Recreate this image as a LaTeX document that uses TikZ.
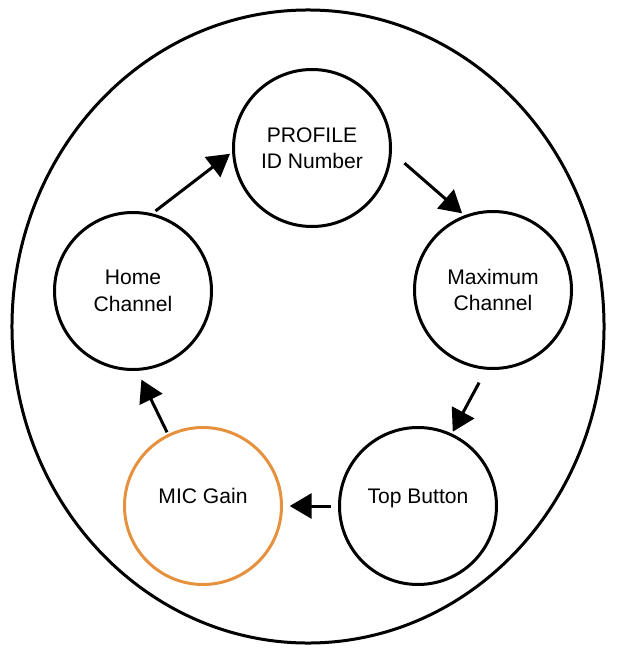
\documentclass[tikz,border=0pt]{standalone}
\usepackage{fontspec}
\setmainfont{Liberation Sans}
\usepackage{tikz}
\usetikzlibrary{arrows.meta,positioning}
\definecolor{micorange}{RGB}{230,145,62}

\begin{document}
\begin{tikzpicture}[
  x=0.03cm, y=-0.03cm,
  stage/.style={draw, circle, line width=0.09cm, minimum size=4.71cm, inner sep=0pt, align=center, font=\fontsize{18}{22.5}\selectfont},
  oneline/.style={text height=13.5pt, text depth=17pt},
  current/.style={draw=micorange},
  flow/.style={-{Triangle[length=0.66cm, width=0.75cm]}, line width=0.09cm},
  ring/.style={line width=0.09cm}
]
  \useasboundingbox (0,0) rectangle (618,648);
  \draw[ring] (308,326.5) ellipse [x radius=8.88cm, y radius=9.495cm];

  \node[stage] (profile) at (312,148) {PROFILE\\ID Number};
  \node[stage] (maxch) at (493,290) {Maximum\\Channel};
  \node[stage, oneline] (top) at (418,506) {Top Button};
  \node[stage, oneline, current, left=1.65cm of top] (mic) {MIC Gain};
  \node[stage] (home) at (133,291) {Home\\Channel};

  \draw[flow, shorten <=0.12cm, shorten >=0.08cm] (home.76) -- (profile.183.5);
  \draw[flow, shorten <=0.5cm, shorten >=0.09cm] (profile.-3) -- (maxch.111);
  \draw[flow, shorten <=0.44cm, shorten >=0.06cm] (maxch.265) -- (top.65);
  \draw[flow, shorten <=0.2cm, shorten >=0.2cm] (top.west) -- (mic.east);
  \draw[flow, shorten <=0.06cm, shorten >=0.29cm] (mic.116) -- (home.273);
\end{tikzpicture}
\end{document}
